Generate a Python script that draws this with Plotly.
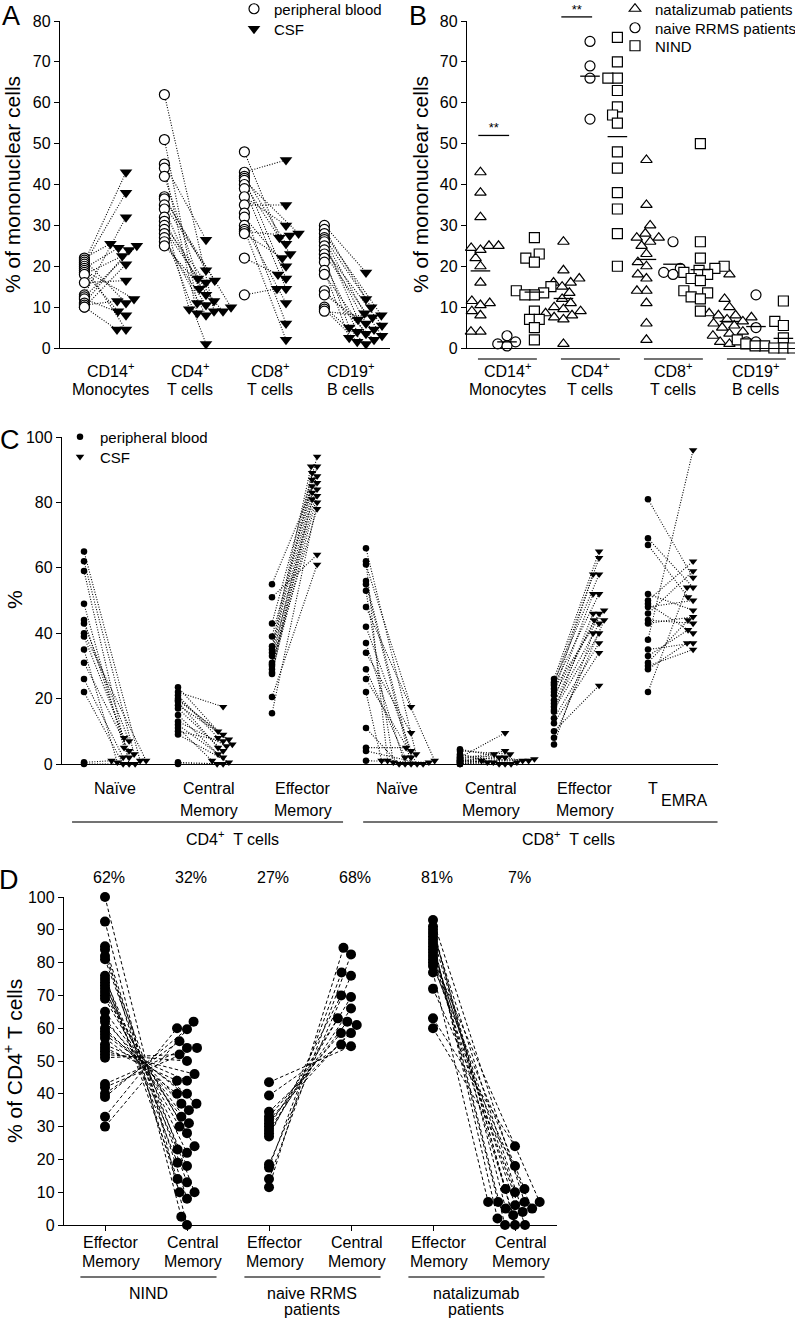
import numpy as np
import plotly.graph_objects as go

W, H = 795, 1319
FONT = "Liberation Sans, Arial, Helvetica, sans-serif"

# ==========================================
# DATA - panel A: % of mononuclear cells, blood vs CSF (paired)
# ==========================================
a_labels = [["CD14<sup>+</sup>", "Monocytes"], ["CD4<sup>+</sup>", "T cells"],
            ["CD8<sup>+</sup>", "T cells"], ["CD19<sup>+</sup>", "B cells"]]
a_cd14_pb = [22, 21.5, 21, 20.5, 20, 19.5, 19, 18.5, 18, 16, 13, 12.5, 12, 11, 10.5, 10, 10]
a_cd14_csf = [25.5, 11, 43, 38, 4.5, 24.5, 12, 9, 22.5, 16.5, 32, 25, 8, 24, 11.5, 20.5, 4.5]
a_cd4_pb = [62, 51, 45, 44, 42, 37, 36.5, 35, 34, 32, 31, 30, 29, 28, 27, 26, 25]
a_cd4_csf = [9, 11, 26.5, 8.5, 17, 19, 10, 16.5, 14.5, 9.5, 13, 16, 11.5, 1, 8, 10.5, 9]
a_cd8_pb = [48, 43, 42, 41.5, 41, 40, 39, 37, 35, 33, 32, 30, 29, 28.5, 28, 22, 13]
a_cd8_csf = [27, 46, 25.5, 17, 28, 23, 14.5, 30, 35, 6, 20, 11, 2, 27.5, 22, 18, 14.5]
a_cd19_pb = [30, 29, 28, 27, 26.5, 26, 25, 24, 23, 22, 21, 19, 18, 14, 13, 10, 9.5, 9]
a_cd19_csf = [18.5, 10, 8, 12, 8.5, 7, 6, 5.5, 3, 5, 4, 2.5, 3.5, 2, 4.5, 1, 1.5, 7.5]

# ==========================================
# DATA - panel B: three patient groups per cell type
# ==========================================
b_nat = [[43, 38, 32, 25, 25, 24.5, 24, 22, 20, 16, 12, 11.5, 11, 10.5, 9, 8, 4, 4],
         [26, 19, 17, 16, 16, 15, 13.5, 12, 11, 10, 9.5, 9, 8.5, 8, 7.5, 7, 1],
         [46, 35, 30, 28, 27, 27, 26, 25, 23, 21, 20, 18, 17, 14, 14, 11, 6, 2],
         [18, 12, 10, 8.5, 8, 8, 7.5, 7, 6.5, 6, 5.5, 5, 4, 3.5, 3, 2, 1.5, 1]]
b_naive = [[3, 1.5, 1, 0.5],
           [75, 69, 66, 56],
           [26, 19.5, 18.5, 18],
           [13, 5, 1.5, 1.5]]
b_nind = [[27, 23, 22, 21, 15, 14, 13.5, 13, 13, 9, 7, 7, 5, 2],
          [76, 70, 66, 66, 63, 59, 57, 55, 48, 44, 38, 34, 28, 20],
          [50, 26, 22, 20, 19.5, 19, 18.5, 18, 17, 16.5, 14, 13.5, 12.5, 12, 9],
          [11.5, 6.5, 5.5, 2.5, 2, 1.5, 1, 1, 0.5, 0.5, 0.5, 0, 0, 0]]
b_sig_cat = [0, 1]
b_sig_val = [52, 81]

# ==========================================
# DATA - panel C: T cell subsets, blood vs CSF (paired)
# ==========================================
c_labels = [["Naïve"], ["Central", "Memory"], ["Effector", "Memory"],
            ["Naïve"], ["Central", "Memory"], ["Effector", "Memory"], ["T", "EMRA"]]
c_groups = ["CD4<sup>+</sup>  T cells", "CD8<sup>+</sup>  T cells"]
c_cd4_naive_pb = [65, 62, 59, 49, 44, 43, 40, 39, 35, 31, 26, 22, 0.5, 0]
c_cd4_naive_csf = [1, 3, 0, 5, 2, 7, 1, 8, 0.5, 4, 2, 0, 1, 0]
c_cd4_cm_pb = [23.5, 22, 21, 20, 19.5, 19, 18, 17, 15, 13, 12, 11, 10, 9, 0.5, 0]
c_cd4_cm_csf = [10, 17.5, 8, 6, 9, 5, 7.5, 4, 3, 5.5, 2, 1, 7, 0.5, 0, 0]
c_cd4_em_pb = [55, 51, 43, 39, 36, 35, 34, 33, 31, 30, 29, 28, 27.5, 20.5, 15.5, 30.5]
c_cd4_em_csf = [88, 64, 94, 91, 91, 89, 87, 86, 85, 84, 83, 82, 81, 61, 80, 78]
c_cd8_naive_pb = [66, 62, 61, 56, 55, 53, 48, 42, 37, 34, 29, 26, 22, 11, 5, 4, 1]
c_cd8_naive_csf = [3, 1, 17.5, 2, 0, 0.5, 1, 4, 0, 9.5, 2, 0, 1, 0, 5, 0, 0.5]
c_cd8_cm_pb = [4.5, 4, 3, 2.5, 2, 2, 1.5, 1.5, 1, 1, 1, 0.5, 0.5, 0, 0, 0]
c_cd8_cm_csf = [1, 3, 0.5, 2, 9.5, 1, 0, 4, 2, 0.5, 0, 1.5, 3, 0, 1, 0.5]
c_cd8_em_pb = [26, 25, 24.5, 24, 23, 22, 21, 19.5, 18.5, 17.5, 16.5, 16, 14, 12.5, 10, 8, 6]
c_cd8_em_csf = [65, 58, 63, 52, 47, 58, 46, 52, 44, 43, 40, 46, 37, 34, 24, 44, 40]
c_temra_pb = [81, 69, 67, 52, 50, 49, 48, 46, 44, 43, 38, 35, 33, 31, 30, 29, 22]
c_temra_csf = [57, 54, 51, 47, 62, 40, 50, 59, 43, 45, 96, 37, 41, 44, 35, 37, 54]

# ==========================================
# DATA - panel D: % of CD4+ T cells, effector vs central memory in CSF (paired)
# ==========================================
d_groups = [["NIND"], ["naive RRMS", "patients"], ["natalizumab", "patients"]]
d_pct = ["62%", "32%", "27%", "68%", "81%", "7%"]
d_nind_em = [100, 92.5, 85, 84, 82, 81, 76, 75, 74, 73, 72, 71, 70, 69, 65, 63,
             62, 60, 59, 58, 57, 55, 54, 53, 52, 51, 43, 42, 40, 39, 33, 30]
d_nind_cm = [0, 2.5, 8, 10, 10, 13, 14, 18, 19, 22, 23, 24, 28, 30, 31, 33,
             35, 37, 37, 40, 40, 44, 44, 46, 50, 52, 54, 54, 56, 59.7, 60, 62]
d_rrms_em = [43.5, 39.5, 34.5, 33, 32, 31, 30, 29, 28, 27, 18.5, 17.5, 14, 11.5]
d_rrms_cm = [54.5, 55, 58.5, 58.5, 61, 62, 63, 66, 69.5, 70, 76, 77, 82.5, 84.5]
d_nat_em = [93, 91, 90, 89, 88, 87, 86, 85, 84, 83, 82, 81, 80, 79, 77, 72, 63, 60]
d_nat_cm = [7, 5, 0, 4, 11, 2, 0, 7, 6, 10, 3, 7, 0, 11, 7, 5, 24, 18]

# ==========================================
# LAYOUT GEOMETRY (pixel boxes of each panel)
# ==========================================
panels = {
    "A": dict(x="x", y="y", box=(60, 390, 21, 348), xr=(-0.625, 3.5), ymax=80, dtick=10),
    "B": dict(x="x2", y="y2", box=(467, 795, 21, 348), xr=(-0.482, 3.47), ymax=80, dtick=10),
    "C": dict(x="x3", y="y3", box=(62, 718, 437, 764), xr=(-0.564, 6.415), ymax=100, dtick=20),
    "D": dict(x="x4", y="y4", box=(64, 557, 897, 1225), xr=(-0.5, 5.512), ymax=100, dtick=10),
}


def px_x(px):
    return px / W


def px_y(py):
    return 1 - py / H


def scale(p):
    x0, x1, y0, y1 = p["box"]
    return (x1 - x0) / (p["xr"][1] - p["xr"][0]), (y1 - y0) / p["ymax"]


def swarm(vals, sx, sy, gap):
    # simple beeswarm: smallest horizontal shift so markers don't overlap (pixel space)
    vals = np.asarray(vals, float)
    placed = []
    out = np.zeros(len(vals))
    for i in np.argsort(vals, kind="stable"):
        y = vals[i] * sy
        near = [(px, np.sqrt(gap ** 2 - (y - py) ** 2)) for px, py in placed if abs(y - py) < gap]
        cands = [0.0] + [px + s * r for px, r in near for s in (-1, 1)]
        cands.sort(key=lambda c: (abs(c), c))
        for c in cands:
            if all(abs(c - px) >= r - 1e-6 for px, r in near):
                break
        placed.append((c, y))
        out[i] = c / sx
    return out


def connectors(x0, y0, x1, y1):
    xs, ys = [], []
    for a, b, c, d in zip(x0, y0, x1, y1):
        xs += [a, c, None]
        ys += [b, d, None]
    return xs, ys


fig = go.Figure()

# ---------- Panel A ----------
pA = panels["A"]
sx, sy = scale(pA)
a_pb = [a_cd14_pb, a_cd4_pb, a_cd8_pb, a_cd19_pb]
a_csf = [a_cd14_csf, a_cd4_csf, a_cd8_csf, a_cd19_csf]
a_pos = []
for k, (pb, csf) in enumerate(zip(a_pb, a_csf)):
    xb = np.full(len(pb), k - 0.32)
    xc = k + 0.2 + swarm(csf, sx, sy, 9)
    a_pos.append((xb, xc))
    lx, ly = connectors(xb, pb, xc, csf)
    fig.add_trace(go.Scatter(x=lx, y=ly, mode="lines", xaxis="x", yaxis="y",
                             line=dict(color="black", width=1.1, dash="1px,1.6px"),
                             showlegend=False, hoverinfo="skip"))
for k, (pb, csf) in enumerate(zip(a_pb, a_csf)):
    xb, xc = a_pos[k]
    fig.add_trace(go.Scatter(x=xb, y=pb, mode="markers", xaxis="x", yaxis="y", cliponaxis=False,
                             marker=dict(symbol="circle", size=10, color="white",
                                         line=dict(color="black", width=1.2)),
                             name="peripheral blood", legend="legend", showlegend=(k == 0)))
    fig.add_trace(go.Scatter(x=xc, y=csf, mode="markers", xaxis="x", yaxis="y", cliponaxis=False,
                             marker=dict(symbol="triangle-down", size=11, color="black", line=dict(width=0)),
                             name="CSF", legend="legend2", showlegend=(k == 0)))

# ---------- Panel B ----------
pB = panels["B"]
sx, sy = scale(pB)
b_series = [("natalizumab patients", "triangle-up", -0.32, b_nat, "legend3"),
            ("naive RRMS patients", "circle", 0.0, b_naive, "legend4"),
            ("NIND", "square", 0.33, b_nind, "legend5")]
for name, sym, off, groups, leg in b_series:
    for k, vals in enumerate(groups):
        xs = k + off + swarm(vals, sx, sy, 9.5)
        fig.add_trace(go.Scatter(x=xs, y=vals, mode="markers", xaxis="x2", yaxis="y2", cliponaxis=False,
                                 marker=dict(symbol=sym, size=10, color="white",
                                             line=dict(color="black", width=1.2)),
                                 name=name, legend=leg, showlegend=(k == 0)))
        fig.add_trace(go.Scatter(x=[k + off], y=[np.mean(vals)], mode="markers", xaxis="x2", yaxis="y2",
                                 cliponaxis=False, showlegend=False, hoverinfo="skip",
                                 marker=dict(symbol="line-ew", size=14, line=dict(color="black", width=1.3))))
# significance bars live on a hidden axis with the same scale that reaches the top of the page
sig_x = [k + (b_series[0][2] + b_series[1][2]) / 2 for k in b_sig_cat]
fig.add_trace(go.Scatter(x=sig_x, y=b_sig_val, mode="markers", xaxis="x2", yaxis="y5", cliponaxis=False,
                         showlegend=False, hoverinfo="skip",
                         marker=dict(symbol="line-ew", size=22, line=dict(color="black", width=1.3))))
fig.add_trace(go.Scatter(x=sig_x, y=b_sig_val, mode="text", text=["**"] * len(sig_x),
                         textposition="top center", xaxis="x2", yaxis="y5", cliponaxis=False,
                         textfont=dict(size=13, color="black"), showlegend=False, hoverinfo="skip"))

# ---------- Panel C ----------
pC = panels["C"]
sx, sy = scale(pC)
c_pb = [c_cd4_naive_pb, c_cd4_cm_pb, c_cd4_em_pb, c_cd8_naive_pb, c_cd8_cm_pb, c_cd8_em_pb, c_temra_pb]
c_csf = [c_cd4_naive_csf, c_cd4_cm_csf, c_cd4_em_csf, c_cd8_naive_csf, c_cd8_cm_csf, c_cd8_em_csf, c_temra_csf]
c_pos = []
for k, (pb, csf) in enumerate(zip(c_pb, c_csf)):
    xb = np.full(len(pb), k - 0.33)
    xc = k + 0.15 + swarm(csf, sx, sy, 6)
    c_pos.append((xb, xc))
    lx, ly = connectors(xb, pb, xc, csf)
    fig.add_trace(go.Scatter(x=lx, y=ly, mode="lines", xaxis="x3", yaxis="y3",
                             line=dict(color="black", width=1.1, dash="1px,1.6px"),
                             showlegend=False, hoverinfo="skip"))
for k, (pb, csf) in enumerate(zip(c_pb, c_csf)):
    xb, xc = c_pos[k]
    fig.add_trace(go.Scatter(x=xb, y=pb, mode="markers", xaxis="x3", yaxis="y3", cliponaxis=False,
                             marker=dict(symbol="circle", size=6.5, color="black", line=dict(width=0)),
                             name="peripheral blood", legend="legend6", showlegend=(k == 0)))
    fig.add_trace(go.Scatter(x=xc, y=csf, mode="markers", xaxis="x3", yaxis="y3", cliponaxis=False,
                             marker=dict(symbol="triangle-down", size=7.5, color="black", line=dict(width=0)),
                             name="CSF", legend="legend7", showlegend=(k == 0)))

# ---------- Panel D ----------
pD = panels["D"]
sx, sy = scale(pD)
d_pairs = [(d_nind_em, d_nind_cm), (d_rrms_em, d_rrms_cm), (d_nat_em, d_nat_cm)]
d_pos = []
for g, (em, cm) in enumerate(d_pairs):
    xe = np.full(len(em), 2 * g)
    xc = 2 * g + 1 + swarm(cm, sx, sy, 10)
    d_pos.append((xe, xc))
    lx, ly = connectors(xe, em, xc, cm)
    fig.add_trace(go.Scatter(x=lx, y=ly, mode="lines", xaxis="x4", yaxis="y4",
                             line=dict(color="black", width=1, dash="3.5px,2.5px"),
                             showlegend=False, hoverinfo="skip"))
for g, (em, cm) in enumerate(d_pairs):
    xe, xc = d_pos[g]
    for xs, vals in ((xe, em), (xc, cm)):
        fig.add_trace(go.Scatter(x=xs, y=vals, mode="markers", xaxis="x4", yaxis="y4", cliponaxis=False,
                                 marker=dict(symbol="circle", size=10, color="black", line=dict(width=0)),
                                 showlegend=False))

# ==========================================
# AXES
# ==========================================
layout = {}
for key, p in panels.items():
    x0, x1, y0, y1 = p["box"]
    xname = "xaxis" + p["x"][1:]
    yname = "yaxis" + p["y"][1:]
    layout[xname] = dict(domain=[px_x(x0), px_x(x1)], range=list(p["xr"]), anchor=p["y"],
                         showline=True, linecolor="black", linewidth=1.3, showgrid=False,
                         zeroline=False, showticklabels=False, ticks="")
    layout[yname] = dict(domain=[px_y(y1), px_y(y0)], range=[0, p["ymax"]], anchor=p["x"],
                         showline=True, linecolor="black", linewidth=1.3, showgrid=False,
                         zeroline=False, ticks="outside", ticklen=5, tickwidth=1.3, tickcolor="black",
                         dtick=p["dtick"], tick0=0, tickfont=dict(size=16, color="black"))
layout["xaxis4"].update(ticks="outside", ticklen=5, tickwidth=1.3, tickcolor="black",
                        tickvals=list(range(6)))
# hidden twin of B's y axis, same px-per-unit, running up to the top edge
bx0, bx1, by0, by1 = pB["box"]
layout["yaxis5"] = dict(domain=[px_y(by1), 1.0], range=[0, pB["ymax"] * by1 / (by1 - by0)],
                        anchor="x2", visible=False)

# ==========================================
# TEXT, UNDERLINES, LEGENDS
# ==========================================
ann = []
shapes = []


def text(x, y, s, size=16, xref="paper", angle=0, xanchor="center"):
    ann.append(dict(x=x, y=px_y(y), xref=xref, yref="paper", text=s, showarrow=False,
                    font=dict(size=size, color="black", family=FONT), textangle=angle,
                    xanchor=xanchor, yanchor="middle"))


def underline(x0, x1, y, xref):
    shapes.append(dict(type="line", x0=x0, x1=x1, y0=px_y(y), y1=px_y(y), xref=xref, yref="paper",
                       line=dict(color="#444", width=1.3)))


# panel letters
for s, x, y in (("A", 11, 16), ("B", 418, 16), ("C", 10, 440), ("D", 9, 880)):
    text(px_x(x), y, s, size=27)

# y titles
text(px_x(12), 185, "% of mononuclear cells", size=21, angle=-90)
text(px_x(420), 185, "% of mononuclear cells", size=21, angle=-90)
text(px_x(14), 600, "%", size=21, angle=-90)
text(px_x(13), 1061, "% of CD4<sup>+</sup> T cells", size=21, angle=-90)

# panel A / B category labels
for k, lines in enumerate(a_labels):
    for s, y in zip(lines, (370, 389)):
        text(k, y, s, xref="x")
        text(k, y, s, xref="x2")
    underline(k - 0.35, k + 0.36, 359, "x2")

# panel C category labels
for k, lines in enumerate(c_labels):
    if lines[0] == "T":
        text(k - 0.28, 788, lines[0], xref="x3")
        text(k + 0.06, 800, lines[1], xref="x3")
        continue
    for s, y in zip(lines, (788, 810)):
        text(k, y, s, xref="x3")
underline(-0.457, 2.426, 822, "x3")
underline(2.64, 6.41, 822, "x3")
text(1.255, 838, c_groups[0], xref="x3")
text(4.82, 838, c_groups[1], xref="x3")

# panel D labels
for k, s in enumerate(d_pct):
    text(k + 0.05, 877, s, xref="x4")
for k in range(6):
    top = "Effector" if k % 2 == 0 else "Central"
    text(k + 0.07, 1242, top, xref="x4")
    text(k + 0.07, 1261, "Memory", xref="x4")
for g, lines in enumerate(d_groups):
    underline(2 * g - 0.3, 2 * g + 1.36, 1277, "x4")
    for s, y in zip(lines, (1293, 1309)):
        text(2 * g + 0.53, y, s, xref="x4")

# one legend per entry so each entry sits exactly where the reference has it
legend_pos = {"legend": (234, 9), "legend2": (234, 29),
              "legend3": (615, 9), "legend4": (615, 28), "legend5": (615, 46),
              "legend6": (60, 437), "legend7": (60, 457)}
for name, (lx_, ly_) in legend_pos.items():
    layout[name] = dict(x=px_x(lx_), y=px_y(ly_), xanchor="left", yanchor="middle",
                        bgcolor="rgba(0,0,0,0)", borderwidth=0, itemwidth=30,
                        font=dict(size=15, color="black", family=FONT))

fig.update_layout(width=W, height=H, margin=dict(l=0, r=0, t=0, b=0, autoexpand=False), autosize=False,
                  paper_bgcolor="white", plot_bgcolor="rgba(0,0,0,0)", template="none",
                  font=dict(family=FONT, color="black"), annotations=ann, shapes=shapes,
                  hovermode="closest", **layout)

# page body has a default 8px margin; drop it so the figure sits at the window's corner
fig.write_html("out.html", config={"displayModeBar": False},
               post_script="document.body.style.margin = '0px';")
